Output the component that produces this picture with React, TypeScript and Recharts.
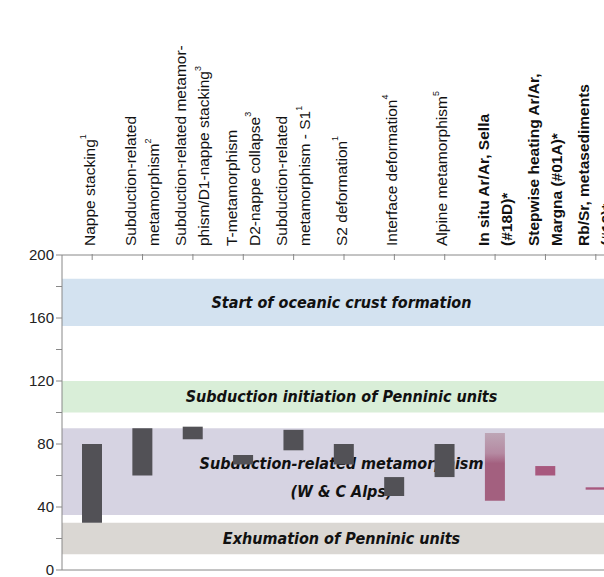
import React from "react";
import { BarChart, Bar, XAxis, YAxis, ReferenceArea, Cell } from "recharts";

// Time ranges (Ma) per study, [younger, older]
const categories = [
  "nappe", "subMeta", "subMetaD1", "tMeta", "subMetaS1", "s2",
  "interface", "alpine", "inSitu", "stepwise", "rbsr",
];
const lowValues = [30, 60, 83, 67, 76, 67, 47, 59, 44, 60, 51];
const highValues = [80, 90, 91, 73, 89, 80, 59, 80, 87, 66, 52.5];

// label lines: [text, superscript]
const labelLines: [string, string][][] = [
  [["Nappe stacking", "1"]],
  [["Subduction-related", ""], ["metamorphism", "2"]],
  [["Subduction-related metamor-", ""], ["phism/D1-nappe stacking", "3"]],
  [["T-metamorphism", ""], ["D2-nappe collapse", "3"]],
  [["Subduction-related", ""], ["metamorphism - S1", "1"]],
  [["S2 deformation", "1"]],
  [["Interface deformation", "4"]],
  [["Alpine metamorphism", "5"]],
  [["In situ Ar/Ar, Sella", ""], ["(#18D)*", ""]],
  [["Stepwise heating Ar/Ar,", ""], ["Margna (#01A)*", ""]],
  [["Rb/Sr, metasediments", ""], ["(#12)*", ""]],
];
const boldLabels = [false, false, false, false, false, false, false, false, true, true, true];

const bands = [
  { y1: 155, y2: 185, fill: "#d3e2f0", lines: ["Start of oceanic crust formation"] },
  { y1: 100, y2: 120, fill: "#d9eed8", lines: ["Subduction initiation of Penninic units"] },
  { y1: 35, y2: 90, fill: "#d6d3e2", lines: ["Subduction-related metamorphism", "(W & C Alps)"] },
  { y1: 10, y2: 30, fill: "#dad7d3", lines: ["Exhumation of Penninic units"] },
];

const yTicks = [0, 20, 40, 60, 80, 100, 120, 140, 160, 180, 200];

const barColors = ["#525156", "#525156", "#525156", "#525156", "#525156", "#525156",
  "#525156", "#525156", "url(#inSituGrad)", "#a8587e", "#a8587e"];

const data = categories.map((c, i) => ({ name: c, range: [lowValues[i], highValues[i]] }));

const condensed = "'DejaVu Sans Condensed', 'Liberation Sans Narrow', sans-serif";
const sans = "'Liberation Sans', Arial, sans-serif";

const TopTick = (props: any) => {
  const { x, index } = props;
  const lines = labelLines[index] || [];
  const offsets = lines.length === 1 ? [-3] : [-12, 11];
  const baseY = 246;
  return (
    <g>
      <line x1={x} x2={x} y1={254} y2={260} stroke="#888" />
      {lines.map((ln, j) => (
        <text
          key={j}
          x={x + offsets[j]}
          y={baseY}
          transform={`rotate(-90 ${x + offsets[j]} ${baseY})`}
          dominantBaseline="central"
          fontSize={15.5}
          fontWeight={boldLabels[index] ? "bold" : "normal"}
          fontFamily={sans}
          fill="#111"
        >
          {ln[0]}
          {ln[1] && (
            <tspan fontSize={9} dy={-6}>{ln[1]}</tspan>
          )}
        </text>
      ))}
    </g>
  );
};

const bandLabel = (lines: string[]) => (props: any) => {
  const { viewBox } = props;
  const cx = viewBox.x + viewBox.width / 2;
  const cy = viewBox.y + viewBox.height / 2;
  const start = lines.length > 1 ? cy - 8 : cy;
  return (
    <g>
      {lines.map((l, i) => (
        <text key={i} x={cx} y={start + i * 28} textAnchor="middle" dominantBaseline="central"
          fontSize={16} fontWeight="bold" fontStyle="italic" fontFamily={condensed} fill="#111">
          {l}
        </text>
      ))}
    </g>
  );
};

export default function App() {
  return (
    <div style={{ position: "fixed", left: 0, top: 0, width: 604, height: 577, overflow: "hidden", background: "#fff" }}>
      <BarChart width={629} height={590} data={data} margin={{ top: 254, right: 8, bottom: 19, left: 0 }} barSize={20}>
        <defs>
          <linearGradient id="inSituGrad" x1="0" y1="0" x2="0" y2="1">
            <stop offset="0%" stopColor="#bda6b6" />
            <stop offset="30%" stopColor="#b58aa2" />
            <stop offset="45%" stopColor="#a3607f" />
            <stop offset="100%" stopColor="#a3607f" />
          </linearGradient>
        </defs>
        {bands.map((b, i) => (
          <ReferenceArea key={i} xAxisId={1} y1={b.y1} y2={b.y2} fill={b.fill} fillOpacity={1} stroke="none" />
        ))}
        <XAxis dataKey="name" orientation="top" xAxisId={0} axisLine={{ stroke: "#888" }} tickLine={false}
          tick={<TopTick />} interval={0} height={1} padding={{ left: 5, right: 0 }} />
        <XAxis dataKey="name" orientation="bottom" xAxisId={1} axisLine={{ stroke: "#888" }} tick={false} tickLine={false} height={1} />
        <YAxis domain={[0, 200]} ticks={yTicks} width={62} axisLine={{ stroke: "#888" }} tickLine={{ stroke: "#888" }}
          tickSize={6} tick={{ fill: "#222", fontSize: 15, fontFamily: sans }}
          tickFormatter={(v: number) => (v % 40 === 0 ? String(v) : "")} />
        <Bar dataKey="range" isAnimationActive={false} xAxisId={0}>
          {data.map((_, i) => (
            <Cell key={i} fill={barColors[i]} />
          ))}
        </Bar>
        {bands.map((b, i) => (
          <ReferenceArea key={"l" + i} xAxisId={1} y1={b.y1} y2={b.y2} fill="none" stroke="none" label={bandLabel(b.lines)} />
        ))}
      </BarChart>
    </div>
  );
}
